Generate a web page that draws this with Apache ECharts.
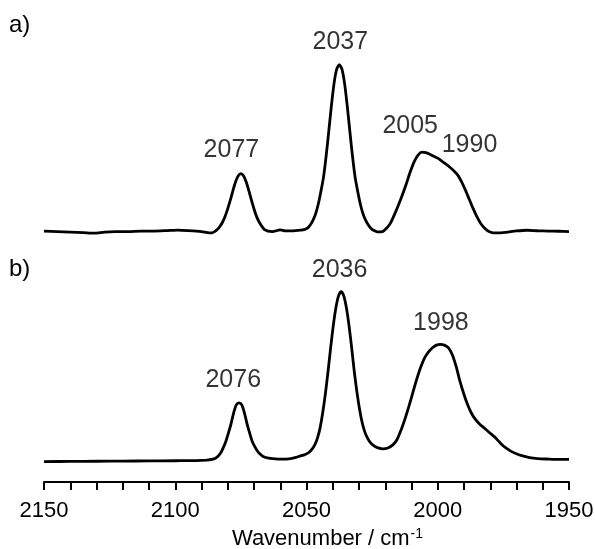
<!DOCTYPE html>
<html>
<head>
<meta charset="utf-8">
<title>IR spectra</title>
<script src="https://cdn.jsdelivr.net/npm/echarts@6.0.0/dist/echarts.min.js"></script>
<style>
  html, body { margin: 0; padding: 0; background: #fff; }
  #chart { width: 595px; height: 549px; }
</style>
</head>
<body>
<div id="chart"></div>
<script>
// spectrum a) — wavenumber / absorbance
const wnA = [2150, 2145, 2140, 2135, 2131, 2127, 2123, 2118, 2113, 2108, 2103, 2099, 2095, 2090, 2087,
  2086, 2085, 2084, 2083, 2082, 2081, 2080, 2079, 2078, 2077, 2076, 2075, 2074, 2073, 2072, 2071, 2070,
  2069, 2068, 2066, 2063, 2060, 2058, 2055, 2052.5, 2051.5, 2050.5, 2049.5, 2048.5, 2047.5, 2046.5, 2045.5,
  2044.5, 2043.5, 2042.5, 2041.5, 2040.5, 2039.5, 2038.5, 2037.5, 2036.5, 2035.5, 2034.5, 2033.5, 2032.5,
  2031.5, 2030.5, 2029.5, 2028.5, 2027.5, 2026.5, 2025.5, 2024.5, 2023, 2021, 2019.5, 2018, 2016.5, 2015,
  2013.5, 2012, 2010.5, 2009, 2007.5, 2006, 2004.5, 2003, 2001.5, 2000, 1998.5, 1997, 1995.5, 1994, 1992.5,
  1991, 1989.5, 1988, 1986.5, 1985, 1983.5, 1982, 1980.5, 1979, 1977, 1974, 1970, 1966, 1962, 1958, 1954, 1950];
const absA = [0.003, 0, -0.003, -0.006, -0.009, -0.003, 0, 0, 0.003, 0.003, 0.006, 0.009, 0.006, 0, -0.008,
  -0.007, 0.0, 0.012, 0.03, 0.055, 0.09, 0.135, 0.186, 0.243, 0.293, 0.328, 0.341, 0.328, 0.293, 0.243, 0.186, 0.133,
  0.088, 0.055, 0.012, 0.0, 0.01, 0.004, 0.004, 0.008, 0.01, 0.014, 0.022, 0.04, 0.067, 0.106, 0.162,
  0.237, 0.322, 0.447, 0.592, 0.742, 0.872, 0.955, 0.982, 0.955, 0.872, 0.742, 0.592, 0.447,
  0.322, 0.237, 0.162, 0.106, 0.067, 0.04, 0.02, 0.008, -0.002, 0.0, 0.02, 0.05, 0.1, 0.155,
  0.215, 0.28, 0.35, 0.41, 0.45, 0.467, 0.465, 0.455, 0.443, 0.432, 0.415, 0.398, 0.38, 0.36, 0.335,
  0.295, 0.245, 0.19, 0.135, 0.085, 0.045, 0.018, 0.0, -0.007, -0.008, -0.004, 0.004, 0.008, 0.005, 0.003, 0.002, 0];

// spectrum b)
const wnB = [2150, 2140, 2130, 2120, 2110, 2100, 2092, 2088, 2086, 2084.7, 2083.7, 2082.7, 2081.7, 2080.7,
  2079.7, 2078.7, 2077.7, 2076.7, 2075.7, 2074.7, 2073.7, 2072.7, 2071.7, 2070.7, 2069.7, 2068.7, 2067.7,
  2066.7, 2065, 2062, 2059, 2056, 2054, 2052, 2050.5, 2049, 2047.8, 2046.8, 2045.8, 2044.8, 2043.8, 2042.8,
  2041.8, 2040.8, 2039.8, 2038.8, 2037.8, 2036.8, 2035.8, 2034.8, 2033.8, 2032.8, 2031.8, 2030.8, 2029.8,
  2028.8, 2027.8, 2026.8, 2025.8, 2024.5, 2023, 2021, 2019, 2017, 2015.5, 2014, 2012.5, 2011, 2009.5, 2008,
  2006.5, 2005, 2003.5, 2002, 2000.5, 1999, 1997.5, 1996, 1994.5, 1993, 1991.5, 1990, 1988.5, 1987, 1985.5,
  1984, 1982.5, 1981, 1979.5, 1978, 1976.5, 1975, 1973.5, 1972, 1970.5, 1968, 1965, 1962, 1958, 1954, 1950];
const absB = [0, 0.001, 0.002, 0.003, 0.004, 0.005, 0.006, 0.009, 0.013, 0.02, 0.032, 0.05, 0.082, 0.12,
  0.17, 0.225, 0.29, 0.335, 0.346, 0.335, 0.29, 0.225, 0.17, 0.12, 0.088, 0.062, 0.044,
  0.032, 0.022, 0.016, 0.014, 0.018, 0.025, 0.035, 0.042, 0.055, 0.075, 0.1, 0.14, 0.2, 0.29, 0.4,
  0.53, 0.67, 0.8, 0.905, 0.975, 1.0, 0.975, 0.905, 0.8, 0.67, 0.53, 0.41, 0.31,
  0.23, 0.175, 0.14, 0.115, 0.095, 0.082, 0.075, 0.08, 0.1, 0.13, 0.185, 0.25, 0.325, 0.405, 0.485,
  0.555, 0.61, 0.645, 0.67, 0.685, 0.69, 0.685, 0.67, 0.63, 0.56, 0.47, 0.395, 0.33, 0.28, 0.245,
  0.22, 0.2, 0.18, 0.16, 0.14, 0.115, 0.092, 0.075, 0.06, 0.049, 0.035, 0.024, 0.018, 0.015, 0.013, 0.013];

// vertical offset of trace a above trace b
const offsetA = 1.353;

// peak annotations: text, anchor wavenumber, anchor height above the trace baseline
const peakTextA = ['2077', '2037', '2005', '1990'];
const peakWnA = [2078.6, 2037.1, 2010.5, 1987.9];
const peakYA = [0.407, 1.039, 0.549, 0.437];
const peakTextB = ['2076', '2036', '1998'];
const peakWnB = [2077.9, 2037.4, 1998.8];
const peakYB = [0.404, 1.051, 0.741];

const xTicks = { min: 1950, max: 2150, step: 50 };

const FONT = 'Liberation Sans, Arial, sans-serif';

const pairs = (xs, ys, off) => xs.map((x, i) => [x, ys[i] + off]);

const labelData = [
  ...peakTextA.map((t, i) => ({ name: t, value: [peakWnA[i], peakYA[i] + offsetA] })),
  ...peakTextB.map((t, i) => ({ name: t, value: [peakWnB[i], peakYB[i]] }))
];

const traceStyle = { color: '#000', width: 2.8 };

const chart = echarts.init(document.getElementById('chart'), null, { renderer: 'canvas' });

chart.setOption({
  animation: false,
  backgroundColor: '#fff',
  grid: { left: 44, right: 26, top: 40, bottom: 67, outerBoundsMode: 'none', containLabel: false },
  xAxis: {
    type: 'value',
    position: 'bottom',
    inverse: true,
    min: xTicks.min,
    max: xTicks.max,
    interval: xTicks.step,
    name: 'Wavenumber / cm{sup|-1}',
    nameLocation: 'middle',
    nameGap: 45,
    nameTextStyle: {
      color: '#000',
      fontFamily: FONT,
      fontSize: 22,
      padding: [0, 0, 0, 42],
      rich: { sup: { fontSize: 14, verticalAlign: 'top', fontFamily: FONT, color: '#000', padding: [0, 0, 10, 1] } }
    },
    axisLine: { show: true, onZero: false, lineStyle: { color: '#000', width: 2 } },
    axisTick: { show: true, inside: false, length: 8, lineStyle: { color: '#000', width: 2 } },
    minorTick: { show: true, splitNumber: 5, length: 8, lineStyle: { color: '#000', width: 2 } },
    axisLabel: { color: '#000', fontFamily: FONT, fontSize: 22, margin: 18, formatter: (v) => String(v) },
    splitLine: { show: false },
    minorSplitLine: { show: false }
  },
  yAxis: {
    type: 'value',
    min: -0.12,
    max: 2.48,
    show: false
  },
  graphic: [
    { type: 'text', left: 9, top: 13, style: { text: 'a)', font: '24px ' + FONT, fill: '#000' } },
    { type: 'text', left: 9, top: 257, style: { text: 'b)', font: '24px ' + FONT, fill: '#000' } }
  ],
  series: [
    {
      name: 'a',
      type: 'line',
      data: pairs(wnA, absA, offsetA),
      showSymbol: false,
      smooth: 0.25,
      silent: true,
      lineStyle: traceStyle
    },
    {
      name: 'b',
      type: 'line',
      data: pairs(wnB, absB, 0),
      showSymbol: false,
      smooth: 0.25,
      silent: true,
      lineStyle: traceStyle
    },
    {
      name: 'peaks',
      type: 'scatter',
      data: labelData,
      symbolSize: 0,
      silent: true,
      label: {
        show: true,
        position: 'top',
        distance: 0,
        formatter: '{b}',
        color: '#000',
        fontFamily: FONT,
        fontSize: 25
      }
    }
  ]
});

window.addEventListener('resize', () => chart.resize());
</script>
</body>
</html>
